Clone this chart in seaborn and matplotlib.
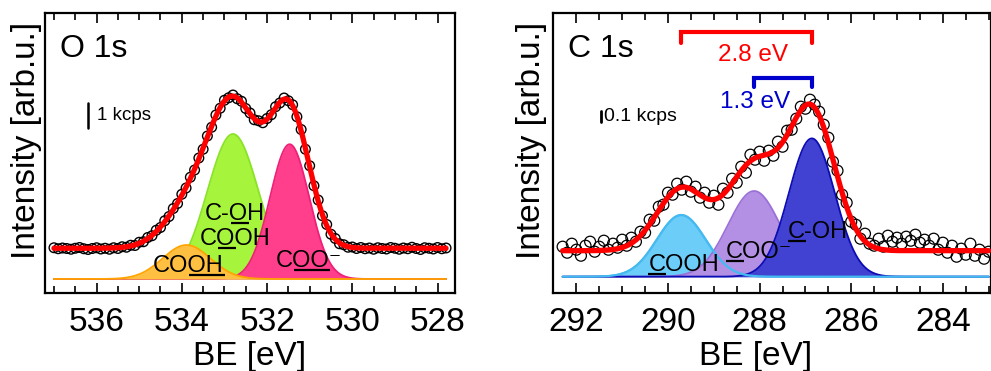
import numpy as np
import pandas as pd
import matplotlib
matplotlib.use('Agg')
import matplotlib.pyplot as plt
from matplotlib.ticker import MultipleLocator
import seaborn as sns

# ---- O 1s : measured points (kcps), 0.1 eV steps from 537.0 down to 527.8
o_be = np.round(np.arange(537.0, 527.75, -0.1), 1)
o_counts = [1.25, 1.21, 1.24, 1.22, 1.19, 1.23, 1.26, 1.21, 1.18, 1.22,
            1.25, 1.20, 1.23, 1.19, 1.25, 1.22, 1.29, 1.27, 1.35, 1.34,
            1.47, 1.49, 1.66, 1.73, 1.95, 2.06, 2.33, 2.50, 2.82, 3.02,
            3.39, 3.64, 4.07, 4.36, 4.84, 5.19, 5.72, 6.07, 6.56, 6.83,
            7.15, 7.25, 7.36, 7.21, 7.11, 6.82, 6.64, 6.37, 6.33, 6.25,
            6.42, 6.57, 6.89, 7.04, 7.24, 7.13, 6.97, 6.49, 5.98, 5.19,
            4.53, 3.73, 3.16, 2.53, 2.18, 1.79, 1.62, 1.41, 1.37, 1.27,
            1.28, 1.22, 1.26, 1.21, 1.24, 1.19, 1.25, 1.22, 1.20, 1.26,
            1.23, 1.19, 1.24, 1.21, 1.27, 1.22, 1.18, 1.25, 1.23, 1.20,
            1.26, 1.21, 1.24]

# O 1s fitted components: COOH (OH), C-OH/COOH, COO-
o_centers = [533.89, 532.80, 531.47]
o_heights = [1.36, 5.80, 5.39]
o_sigmas = [0.56, 0.60, 0.46]
o_bg = 1.23

# ---- C 1s : measured points (a.u., 0.1 kcps = 11.5), 0.1 eV steps from 292.3 down to 283.0
c_be = np.round(np.arange(292.3, 282.95, -0.1), 1)
c_counts = [30, 24, 33, 27, 21, 31, 35, 25, 30, 36,
            27, 33, 29, 37, 31, 39, 35, 45, 44, 57,
            56, 70, 72, 84, 82, 93, 87, 95, 85, 90,
            79, 84, 74, 81, 72, 88, 84, 98, 94, 110,
            104, 122, 117, 125, 116, 126, 121, 135, 130, 146,
            147, 158, 170, 168, 177, 172, 165, 152, 139, 115,
            106, 82, 74, 55, 52, 38, 43, 33, 31, 38,
            30, 41, 35, 39, 33, 40, 36, 42, 34, 37,
            31, 38, 27, 34, 24, 31, 20, 28, 22, 33,
            21, 27, 18, 25]

# C 1s fitted components: COOH, COO-, C-OH
c_centers = [289.71, 288.12, 286.86]
c_heights = [61.7, 85.7, 138.3]
c_sigmas = [0.53, 0.57, 0.50]
c_bg = 26.0
c_bar = 11.5  # 0.1 kcps

o_df = pd.DataFrame({'BE': o_be, 'I': o_counts})
c_df = pd.DataFrame({'BE': c_be, 'I': c_counts})


def peak(x, c, h, s):
    return h * np.exp(-(x - c) ** 2 / (2 * s ** 2))


sns.set_style('ticks')
plt.rcParams['font.family'] = ['Liberation Sans', 'DejaVu Sans']
plt.rcParams['text.color'] = 'black'
plt.rcParams['axes.labelcolor'] = 'black'
plt.rcParams['xtick.color'] = 'black'

fig = plt.figure(figsize=(9.91, 3.71), dpi=100)
ax1 = fig.add_axes([45 / 991, 78 / 371, 410 / 991, 280 / 371])
ax2 = fig.add_axes([553 / 991, 78 / 371, 437.5 / 991, 280 / 371])
renderer = fig.canvas.get_renderer()


def ul_label(ax, x, y, pre, mid, post, fs=17, ha='center'):
    # text with the part `mid` underlined; y is the baseline
    t = ax.text(x, y, pre + mid + post, fontsize=fs, ha=ha, va='baseline', zorder=6)
    left = t.get_window_extent(renderer).x0

    def width(s):
        if not s:
            return 0.0
        tmp = ax.text(0, 0, s, fontsize=fs)
        w = tmp.get_window_extent(renderer).width
        tmp.remove()
        return w

    a = left + width(pre) + (1 if pre else 0)
    b = left + width(pre + mid) + 1
    yb = ax.transData.transform((x, y))[1] - 3
    p = ax.transData.inverted().transform([(a, yb), (b, yb)])
    ax.plot(p[:, 0], p[:, 1], color='black', lw=1.6, solid_capstyle='butt', zorder=6)


# ---------------- O 1s
ax1.set_xlim(537.21, 527.59)
ax1.set_ylim(-0.56, 10.64)
xs = np.linspace(o_be.max(), o_be.min(), 800)
o_comp = [peak(xs, c, h, s) for c, h, s in zip(o_centers, o_heights, o_sigmas)]
o_fill = ['#ffbf40', '#a6f53c', '#ff3f8c']
o_edge = ['#ffa500', '#8ae326', '#f01f78']
for k, i in enumerate([1, 2, 0]):
    ax1.fill_between(xs, 0, o_comp[i], color=o_fill[i], lw=0, zorder=1 + 0.2 * k)
    ax1.plot(xs, o_comp[i], color=o_edge[i], lw=1.3, zorder=1.1 + 0.2 * k)
sns.scatterplot(data=o_df, x='BE', y='I', ax=ax1, marker='o', s=48,
                facecolor='none', edgecolor='black', linewidth=1.0, zorder=3)
sns.lineplot(x=xs, y=o_bg + sum(o_comp), ax=ax1, color='red', lw=3.8, zorder=4)

ax1.set_xticks([536, 534, 532, 530, 528])
ax1.text(0.037, 0.871, 'O 1s', transform=ax1.transAxes, fontsize=23, va='center', ha='left')
ax1.plot([536.21, 536.21], [6.04, 7.04], color='black', lw=1.8)
ax1.text(535.98, 6.56, '1 kcps', fontsize=13.5, va='center', ha='left')
ul_label(ax1, 532.75, 2.38, 'C-', 'O', 'H')
ul_label(ax1, 532.75, 1.37, 'C', 'O', 'OH')
ul_label(ax1, 533.85, 0.27, 'CO', 'OH', '')
ul_label(ax1, 531.02, 0.48, 'C', 'OO', '\u207b')

# ---------------- C 1s
ax2.set_xlim(292.51, 282.96)
ax2.set_ylim(-16.3, 263.7)
xs2 = np.linspace(c_be.max(), c_be.min(), 800)
c_comp = [peak(xs2, c, h, s) for c, h, s in zip(c_centers, c_heights, c_sigmas)]
c_fill = ['#6bcdf8', '#b390e4', '#4141d2']
c_edge = ['#45baf0', '#9c70d8', '#0c0cb4']
for k in range(3):
    ax2.fill_between(xs2, 0, c_comp[k], color=c_fill[k], lw=0, zorder=1 + 0.2 * k)
    ax2.plot(xs2, c_comp[k], color=c_edge[k], lw=1.3, zorder=1.1 + 0.2 * k)
# the COOH component line stays visible along the baseline
ax2.plot(xs2, c_comp[0], color=c_edge[0], lw=1.6, zorder=1.7)
sns.scatterplot(data=c_df, x='BE', y='I', ax=ax2, marker='o', s=62,
                facecolor='none', edgecolor='black', linewidth=0.9, zorder=3)
sns.lineplot(x=xs2, y=c_bg + sum(c_comp), ax=ax2, color='red', lw=3.8, zorder=4)

ax2.set_xticks([292, 290, 288, 286, 284])
ax2.text(0.034, 0.871, 'C 1s', transform=ax2.transAxes, fontsize=23, va='center', ha='left')
ax2.plot([291.46, 291.46], [154.7, 154.7 + c_bar], color='black', lw=2)
ax2.text(291.40, 160.5, '0.1 kcps', fontsize=14, va='center', ha='left')
ul_label(ax2, 290.43, 6.0, '', 'C', 'OOH', ha='left')
ul_label(ax2, 288.73, 18.4, '', 'C', 'OO\u207b', ha='left')
ul_label(ax2, 287.39, 38.4, '', 'C', '-OH', ha='left')

# peak separation brackets
ax2.plot([c_centers[0], c_centers[0], c_centers[2], c_centers[2]],
         [233.7, 244.7, 244.7, 233.7], color='#ff0000', lw=3, solid_joinstyle='miter')
ax2.text(288.14, 221.7, '2.8 eV', color='#ff0000', fontsize=17.5, ha='center', va='center')
ax2.plot([c_centers[1], c_centers[1], c_centers[2], c_centers[2]],
         [189.7, 198.7, 198.7, 189.7], color='#0000cc', lw=3, solid_joinstyle='miter')
ax2.text(288.10, 174.7, '1.3 eV', color='#0000cc', fontsize=17.5, ha='center', va='center')

for ax, xc in [(ax1, 0.5), (ax2, 0.462)]:
    ax.xaxis.set_minor_locator(MultipleLocator(0.5))
    ax.set_yticks([])
    ax.tick_params(axis='x', which='both', direction='in', top=True, bottom=True,
                   labelsize=24, pad=10, width=1.2, color='black', labelcolor='black')
    ax.tick_params(axis='x', which='major', length=7.5)
    ax.tick_params(axis='x', which='minor', length=5)
    for sp in ax.spines.values():
        sp.set_visible(True)
        sp.set_linewidth(1.6)
        sp.set_color('black')
    ax.set_xlabel('BE [eV]', fontsize=24)
    ax.set_ylabel('Intensity [arb.u.]', fontsize=24)
    ax.xaxis.set_label_coords(xc, -0.17)
    ax.xaxis.label.set_va('top')

ax1.yaxis.set_label_coords(-0.008, 0.546)
ax2.yaxis.set_label_coords(-0.014, 0.546)

fig.savefig('out.png', dpi=100)
